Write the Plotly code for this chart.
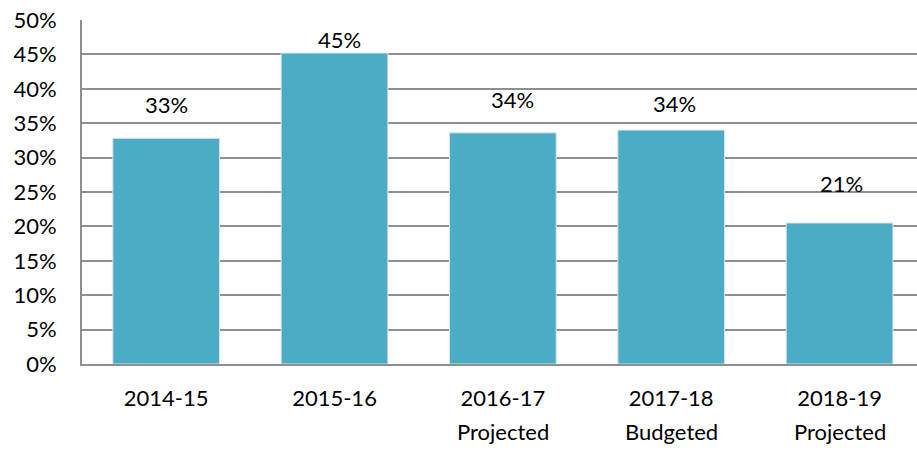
import plotly.graph_objects as go

# ---- data ----
years = ["2014-15", "2015-16", "2016-17", "2017-18", "2018-19"]
sublabels = ["", "", "Projected", "Budgeted", "Projected"]
values = [32.8, 45.2, 33.6, 34.0, 20.5]
value_labels = ["33%", "45%", "34%", "34%", "21%"]
y_ticks = [0, 5, 10, 15, 20, 25, 30, 35, 40, 45, 50]

# ---- styling ----
FONT = "Lato, Carlito, Calibri, sans-serif"
FS = 22
BAR_COLOR = "#4BACC6"
GRID = "#8f8f8f"
label_lift = [4.85, 2.0, 4.8, 3.8, 5.8]   # vertical offset of value labels (in % units)
label_shift = [0.0, 0.03, 0.06, 0.02, 0.01]  # horizontal nudge (in category units)

fig = go.Figure()
fig.add_trace(go.Bar(
    x=list(range(len(years))),
    y=values,
    width=0.634,
    marker=dict(color=BAR_COLOR, line=dict(color="#e4e4e4", width=1)),
    hoverinfo="skip",
))

for i, (v, t) in enumerate(zip(values, value_labels)):
    fig.add_annotation(x=i + label_shift[i], y=v + label_lift[i], text=t,
                       showarrow=False, xref="x", yref="y",
                       font=dict(family=FONT, size=FS, color="#000000"))

for i, s in enumerate(sublabels):
    if s:
        fig.add_annotation(x=i, y=-0.196, text=s, showarrow=False,
                           xref="x", yref="paper", yanchor="middle",
                           font=dict(family=FONT, size=FS, color="#000000"))

fig.update_layout(
    width=917, height=453,
    margin=dict(l=82, r=0, t=20, b=89),
    paper_bgcolor="white", plot_bgcolor="white",
    showlegend=False,
    font=dict(family=FONT, size=FS, color="#000000"),
    xaxis=dict(
        range=[-0.5, 4.46],
        tickmode="array", tickvals=list(range(len(years))), ticktext=years,
        showgrid=False, zeroline=False,
        showline=True, linecolor=GRID, linewidth=2,
        ticks="outside", ticklen=0, tickcolor="rgba(0,0,0,0)",
        ticklabelstandoff=14,
        tickfont=dict(family=FONT, size=FS, color="#000000"),
    ),
    yaxis=dict(
        range=[0, 50],
        tickmode="array", tickvals=y_ticks, ticktext=[f"{t}%" for t in y_ticks],
        showgrid=True, gridcolor=GRID, gridwidth=1.6,
        zeroline=False,
        showline=True, linecolor=GRID, linewidth=2,
        ticks="outside", ticklen=0, tickcolor="rgba(0,0,0,0)",
        ticklabelstandoff=19,
        tickfont=dict(family=FONT, size=FS, color="#000000"),
    ),
)

fig.write_html("out.html", config={"displayModeBar": False},
               post_script="document.body.style.margin='0';")
